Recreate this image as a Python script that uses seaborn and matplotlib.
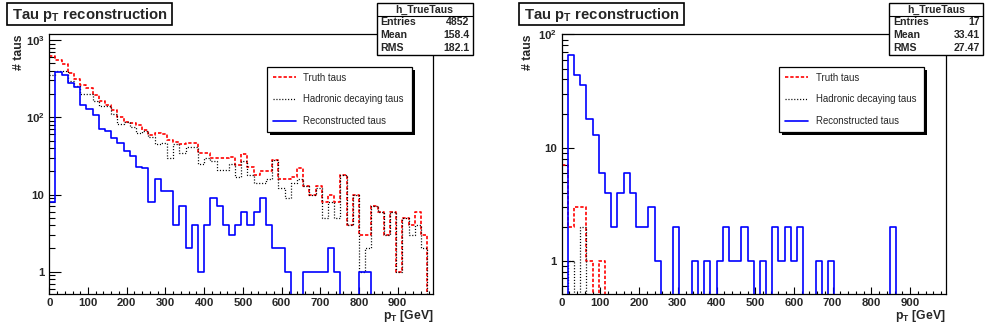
import numpy as np
import pandas as pd
import matplotlib
matplotlib.use("Agg")
import matplotlib.pyplot as plt
from matplotlib.lines import Line2D
from matplotlib.patches import Rectangle
from matplotlib.ticker import MultipleLocator, LogLocator, NullFormatter, FixedLocator, FixedFormatter
import seaborn as sns

# binning of the tau pT histograms (GeV)
bin_width = 16
n_bins = 62

# left pad : all taus
truth_all = [630, 552, 490, 380, 311, 262, 237, 194, 164, 144,
             124, 100, 88, 84, 79, 68, 59, 62, 61, 51,
             48, 45, 46, 46, 35, 35, 30, 30, 30, 31,
             24, 33, 23, 18, 20, 20, 28, 16, 16, 17,
             22, 13, 10, 13, 8, 10, 8, 18, 4, 10,
             3, 3, 7, 6, 3, 6, 1, 5, 4, 6, 3, 0]
hadronic_all = [356, 400, 400, 298, 257, 200, 200, 164, 142, 139,
                110, 81, 86, 74, 62, 67, 55, 45, 46, 30,
                45, 35, 41, 41, 25, 30, 27, 21, 21, 25,
                17, 27, 18, 14, 14, 16, 28, 12, 9, 14,
                16, 13, 10, 12, 5, 8, 5, 18, 4, 10,
                1, 2, 7, 6, 3, 6, 1, 5, 3, 4, 2, 0]
reco_all = [8, 383, 353, 276, 245, 144, 127, 108, 70, 67,
            54, 47, 37, 32, 23, 22, 8, 16, 11, 11,
            4, 7, 2, 4, 1, 4, 9, 7, 4, 3,
            4, 6, 4, 6, 9, 4, 2, 2, 1, 0,
            0, 1, 1, 1, 1, 2, 1, 0, 0, 0,
            1, 1, 0, 0, 0, 0, 0, 0, 0, 0, 0, 0]
stats_all = [("Entries", "4852"), ("Mean", "158.4"), ("RMS", "182.1")]

# right pad
truth_lead = [7, 2, 3, 3, 1, 0, 1] + [0] * 55
hadronic_lead = [0, 1, 0, 2] + [0] * 58
reco_lead = [0, 66, 44, 36, 18, 13, 6, 4, 2, 4,
             6, 4, 2, 2, 3, 1, 0, 0, 2, 0,
             0, 1, 0, 1, 0, 1, 2, 1, 1, 2,
             1, 0, 1, 0, 2, 1, 2, 1, 2, 0,
             0, 1, 0, 1, 0, 0, 0, 0, 0, 0,
             0, 0, 0, 2] + [0] * 8
stats_lead = [("Entries", "17"), ("Mean", "33.41"), ("RMS", "27.47")]

sample_names = ["Truth taus", "Hadronic decaying taus", "Reconstructed taus"]

sns.set_style("ticks")
plt.rcParams["font.family"] = ["Liberation Sans", "DejaVu Sans"]
plt.rcParams["font.weight"] = "bold"
plt.rcParams["mathtext.fontset"] = "custom"
plt.rcParams["mathtext.rm"] = "Liberation Sans"
plt.rcParams["mathtext.bf"] = "Liberation Sans:bold"
plt.rcParams["mathtext.it"] = "Liberation Sans:italic"
plt.rcParams["lines.scale_dashes"] = False

W, H = 985, 329


def fx(x):
    return x / W


def fy(y):
    return 1 - y / H


styles = {
    "Truth taus": dict(color="#ff0000", linestyle=(0, (2.4, 1.4)), linewidth=1.2),
    "Hadronic decaying taus": dict(color="black", linestyle=(0, (0.8, 1.3)), linewidth=0.9),
    "Reconstructed taus": dict(color="#0000ff", linestyle="-", linewidth=1.2),
}

edges = [i * bin_width for i in range(n_bins + 1)]
centers = [e + bin_width / 2 for e in edges[:-1]]

fig = plt.figure(figsize=(W / 100, H / 100), dpi=100)


def draw_pad(left, truth, hadronic, reco, ylim, yticks, yticklabels, stats, stats_x, ylab_x):
    ax = fig.add_axes([fx(left), fy(294.3), 384 / W, 260.3 / H])
    df = pd.DataFrame({
        "pt": centers * 3,
        "count": list(truth) + list(hadronic) + list(reco),
        "sample": [n for n in sample_names for _ in range(n_bins)],
    })
    for name in sample_names:
        sub = df[df["sample"] == name]
        sns.histplot(data=sub, x="pt", weights="count", bins=edges, element="step",
                     fill=False, ax=ax, **styles[name])
    ax.set_yscale("log")
    ax.set_xlim(0, edges[-1])
    ax.set_ylim(*ylim)
    ax.set_xlabel("")
    ax.set_ylabel("")

    ax.xaxis.set_major_locator(MultipleLocator(100))
    ax.xaxis.set_minor_locator(MultipleLocator(20))
    ax.yaxis.set_major_locator(FixedLocator(yticks))
    ax.yaxis.set_major_formatter(FixedFormatter(yticklabels))
    ax.yaxis.set_minor_locator(LogLocator(base=10, subs=np.arange(2, 10), numticks=20))
    ax.yaxis.set_minor_formatter(NullFormatter())
    ax.tick_params(axis="both", which="both", direction="in", color="black",
                   top=False, right=False, width=0.8, labelsize=8.2)
    ax.tick_params(axis="x", which="major", length=5, pad=3)
    ax.tick_params(axis="x", which="minor", length=2.5)
    ax.tick_params(axis="y", which="major", length=8.3, pad=3.5)
    ax.tick_params(axis="y", which="minor", length=4.2)
    for sp in ax.spines.values():
        sp.set_linewidth(0.9)
        sp.set_color("black")

    # legend with a hard black shadow
    lx0 = left + 217.5
    ax.add_patch(Rectangle((fx(lx0 + 3), fy(135)), 145 / W, 65 / H, transform=fig.transFigure,
                           facecolor="black", edgecolor="none", zorder=4.9, clip_on=False))
    handles = [Line2D([], [], **styles[n]) for n in sample_names]
    leg = ax.legend(handles, sample_names, loc="upper left",
                    bbox_to_anchor=(fx(lx0), fy(132), 145 / W, 65 / H),
                    bbox_transform=fig.transFigure, mode="expand", borderaxespad=0,
                    frameon=True, fancybox=False, framealpha=1, edgecolor="black",
                    prop={"weight": "normal", "size": 6.9}, borderpad=0.6,
                    labelspacing=1.22, handlelength=2.45, handletextpad=0.75)
    leg.get_frame().set_linewidth(0.9)
    leg.set_zorder(5)

    # title box
    tx0 = left - 42.8
    fig.add_artist(Rectangle((fx(tx0), fy(25.3)), 165 / W, 22 / H, transform=fig.transFigure,
                             facecolor="white", edgecolor="black", lw=1.2, zorder=5))
    fig.text(fx(tx0 + 5.3), fy(14.6), r"Tau $\mathbf{p_{T}}$ reconstruction", ha="left",
             va="center", fontsize=10.7, weight="bold", zorder=6)

    # statistics box
    sx0, sx1 = stats_x
    fig.add_artist(Rectangle((fx(sx0), fy(55)), (sx1 - sx0) / W, 51.7 / H, transform=fig.transFigure,
                             facecolor="white", edgecolor="black", lw=1.0, zorder=5))
    fig.add_artist(Line2D([fx(sx0), fx(sx1)], [fy(15.7), fy(15.7)], transform=fig.transFigure,
                          color="black", lw=0.8, zorder=6))
    fig.text(fx((sx0 + sx1) / 2), fy(9.8), "h_TrueTaus", ha="center", va="center",
             fontsize=7.6, weight="bold", zorder=7)
    for i, (k, v) in enumerate(stats):
        yy = fy(22.3 + 12.9 * i)
        fig.text(fx(sx0 + 4), yy, k, ha="left", va="center", fontsize=7.6, weight="bold", zorder=7)
        fig.text(fx(sx1 - 3.5), yy, v, ha="right", va="center", fontsize=7.6, weight="bold", zorder=7)

    # axis titles
    fig.text(fx(ylab_x), fy(34), "# taus", rotation=90, ha="center", va="top",
             fontsize=8.8, weight="bold")
    fig.text(fx(left + 384), fy(316.5), r"$\mathbf{p_{T}}$ [GeV]", ha="right", va="center",
             fontsize=8.8, weight="bold")
    return ax


draw_pad(49.3, truth_all, hadronic_all, reco_all, (0.51, 1200),
         [1, 10, 100, 1000], ["1", "10", r"$\mathbf{10^{2}}$", r"$\mathbf{10^{3}}$"],
         stats_all, (376.7, 472.7), 19)
draw_pad(561.7, truth_lead, hadronic_lead, reco_lead, (0.504, 101),
         [1, 10, 100], ["1", "10", r"$\mathbf{10^{2}}$"],
         stats_lead, (889.3, 983.3), 528)

fig.savefig("out.png", dpi=100, facecolor="white")
